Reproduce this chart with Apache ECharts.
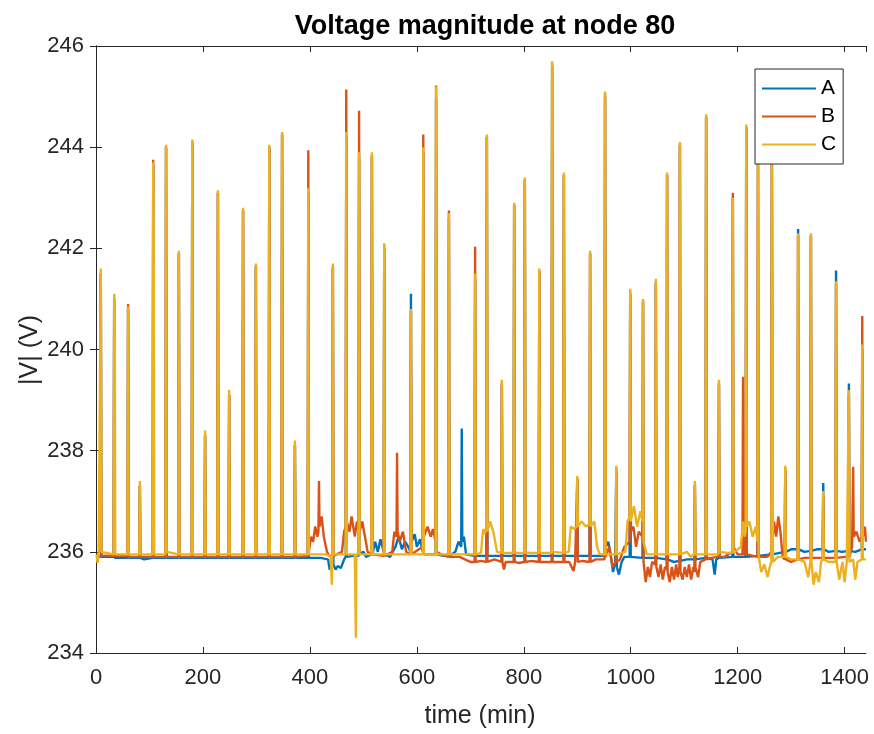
<!DOCTYPE html>
<html>
<head>
<meta charset="utf-8">
<script src="https://cdn.jsdelivr.net/npm/echarts@6/dist/echarts.min.js"></script>
<style>
html,body{margin:0;padding:0;background:#fff;}
#chart{width:874px;height:734px;}
</style>
</head>
<body>
<div id="chart"></div>
<script>
// ---- data (time in minutes, |V| in volts) ----
const seriesNames = ['A', 'B', 'C'];
const xTicks = [0, 200, 400, 600, 800, 1000, 1200, 1400];
const yTicks = [234, 236, 238, 240, 242, 244, 246];

const phaseA = [
[1,235.92],[8,235.9],[9,241.5],[10,235.9],
[33,235.9],[34,241.0],[35,235.88],
[59,235.88],[60,240.8],[61,235.88],
[81,235.88],[82,237.3],[83,235.88],[90,235.85],
[106,235.88],[107,243.65],[108,235.88],
[130,235.88],[131,244.0],[132,235.88],
[154,235.88],[155,241.9],[156,235.88],
[179,235.88],[180,244.1],[181,235.88],
[203,235.88],[204,238.3],[205,235.88],
[227,235.88],[228,243.1],[229,235.88],
[248,235.88],[249,239.1],[250,235.88],
[274,235.88],[275,242.75],[276,235.88],
[298,235.88],[299,241.65],[300,235.88],
[323,235.88],[324,244.0],[325,235.88],
[347,235.88],[348,244.25],[349,235.88],
[371,235.88],[372,238.1],[373,235.88],
[396,235.88],[397,243.1],[398,235.88],
[420,235.88],[434,235.85],[437,235.65],[440,235.75],
[442,235.8],[443,241.6],[444,235.75],
[448,235.65],[452,235.72],[458,235.68],[464,235.85],
[467,235.9],[468,244.2],[469,235.9],[480,235.92],
[491,235.92],[492,243.8],[493,235.95],[500,236.0],[505,235.9],
[515,235.95],[516,243.8],[517,235.95],
[522,236.2],[527,236.0],[532,236.25],
[538,236.0],[539,242.0],[540,235.95],
[550,235.9],[560,236.1],[566,236.3],[572,236.05],[578,236.2],[584,236.1],
[588,236.0],[589,241.1],[590,236.2],
[596,236.35],[600,236.1],[606,236.25],
[611,236.0],[612,243.9],[613,235.95],[622,235.95],
[635,235.95],[636,244.95],[637,235.95],[650,235.92],
[659,235.92],[660,242.6],[661,235.92],
[672,236.0],[678,236.2],
[683,236.1],[684,238.44],[685,236.2],[688,236.3],[692,235.95],
[708,235.92],[709,241.4],[710,235.92],
[730,235.92],[731,244.2],[732,235.92],
[758,235.92],[759,239.3],[760,235.92],
[781,235.92],[782,242.85],[783,235.92],
[801,235.92],[802,243.35],[803,235.92],
[828,235.92],[829,241.55],[830,235.92],
[852,235.92],[853,245.6],[854,235.92],
[874,235.92],[875,243.45],[876,235.92],
[899,235.92],[900,237.45],[901,235.92],
[923,235.92],[924,241.9],[925,235.92],
[951,235.92],[952,245.0],[953,236.1],
[958,236.2],[963,235.9],[967,235.6],[971,235.8],
[972,235.8],[973,237.6],[974,235.7],
[978,235.55],[983,235.8],[988,235.9],
[998,235.9],[999,241.1],[1000,235.9],
[1022,235.88],[1023,240.95],[1024,235.88],
[1046,235.88],[1047,241.3],[1048,235.88],
[1067,235.85],[1068,243.45],[1069,235.85],[1080,235.8],
[1091,235.82],[1092,244.05],[1093,235.82],[1105,235.85],
[1119,235.85],[1120,237.3],[1121,235.85],
[1140,235.88],[1141,244.6],[1142,235.88],
[1153,235.85],[1157,235.55],[1160,235.85],
[1164,235.88],[1165,239.3],[1166,235.88],
[1190,235.9],[1191,243.0],[1192,235.9],
[1215,235.9],[1216,244.4],[1217,235.9],
[1237,235.92],[1238,243.85],[1239,235.92],
[1263,235.95],[1264,243.85],[1265,235.95],
[1288,236.0],[1289,237.6],[1290,236.0],[1300,236.05],
[1312,236.05],[1313,242.38],[1314,236.05],[1325,236.0],
[1336,236.02],[1337,242.25],[1338,236.02],[1348,236.05],
[1359,236.05],[1360,237.36],[1361,236.05],[1370,236.0],
[1383,236.02],[1384,241.56],[1385,236.02],[1395,236.0],
[1407,236.02],[1408,239.33],[1409,236.02],
[1420,236.0],[1432,236.05],[1433,240.0],[1434,236.05],
[1440,236.05]
];

const phaseB = [
[1,235.93],[8,235.93],[9,241.5],[10,235.93],
[33,235.92],[34,241.0],[35,235.92],
[59,235.92],[60,240.9],[61,235.9],
[81,235.9],[82,237.3],[83,235.9],
[106,235.9],[107,243.75],[108,235.9],
[130,235.9],[131,244.0],[132,235.9],
[154,235.9],[155,241.9],[156,235.9],
[179,235.9],[180,244.1],[181,235.9],
[203,235.9],[204,238.3],[205,235.9],
[227,235.9],[228,243.1],[229,235.9],
[248,235.9],[249,239.1],[250,235.9],
[274,235.9],[275,242.75],[276,235.9],
[298,235.9],[299,241.65],[300,235.9],
[323,235.9],[324,244.0],[325,235.9],
[347,235.9],[348,244.25],[349,235.9],
[371,235.9],[372,238.1],[373,235.9],
[396,235.92],[397,243.94],[398,236.0],
[402,236.3],[406,236.2],[410,236.5],[414,236.3],
[416,236.4],[417,237.4],[418,236.5],[422,236.7],[426,236.3],[432,236.0],
[436,235.92],
[442,235.92],[443,241.65],[444,235.92],
[460,236.0],[464,236.4],
[467,236.5],[468,245.14],[469,236.6],
[474,236.4],[478,236.7],[484,236.3],[488,236.6],
[491,236.5],[492,244.72],[493,236.4],
[498,236.6],[503,236.3],[508,236.0],
[515,235.95],[516,243.85],[517,235.95],
[538,235.92],[539,242.05],[540,235.92],
[554,236.0],[558,236.4],
[562,236.3],[563,237.96],[564,236.4],[568,236.2],[574,236.4],[580,236.0],
[588,235.95],[589,240.75],[590,235.95],
[611,236.1],[612,244.25],[613,236.3],
[620,236.5],[626,236.3],[630,236.45],
[635,236.2],[636,245.22],[637,236.0],[645,235.95],
[659,235.9],[660,242.75],[661,235.9],
[680,235.9],[690,235.85],[700,235.8],
[708,235.8],[709,242.03],[710,235.8],[720,235.82],
[730,235.8],[731,244.2],[732,235.8],[745,235.85],
[758,235.8],[759,239.35],[760,235.8],[763,235.65],[766,235.8],
[781,235.8],[782,242.85],[783,235.8],[790,235.78],
[801,235.8],[802,243.35],[803,235.8],[815,235.82],
[828,235.8],[829,241.55],[830,235.8],
[852,235.8],[853,245.65],[854,235.8],
[874,235.8],[875,243.45],[876,235.8],
[885,235.8],[893,235.62],[896,235.8],
[899,235.8],[900,237.45],[901,235.8],[910,235.82],
[923,235.8],[924,241.9],[925,235.8],[935,235.85],
[951,235.85],[952,245.05],[953,235.9],
[960,236.1],[966,235.7],
[972,235.8],[973,237.65],[974,235.8],
[980,235.85],[988,236.1],
[998,236.2],[999,241.15],[1000,236.4],
[1005,236.5],[1010,236.1],[1015,236.4],
[1022,236.3],[1023,240.95],[1024,235.8],
[1028,235.4],[1032,235.7],[1036,235.5],[1040,235.8],
[1046,235.75],[1047,241.35],[1048,235.7],
[1052,235.5],[1056,235.75],[1060,235.45],[1064,235.7],
[1067,235.65],[1068,243.45],[1069,235.6],
[1073,235.4],[1077,235.7],[1081,235.45],[1085,235.75],[1088,235.5],
[1091,235.7],[1092,244.05],[1093,235.6],
[1097,235.45],[1101,235.7],[1105,235.5],[1109,235.75],[1113,235.45],[1117,235.7],
[1119,235.6],[1120,237.35],[1121,235.7],
[1126,235.5],[1130,235.8],
[1140,235.85],[1141,244.6],[1142,235.85],[1150,235.88],
[1164,235.9],[1165,239.35],[1166,235.9],[1175,235.9],
[1190,236.0],[1191,243.1],[1192,236.1],[1200,235.95],
[1209,235.95],[1210,239.46],[1211,235.95],
[1215,235.95],[1216,244.4],[1217,235.95],
[1237,235.9],[1238,243.85],[1239,235.9],[1255,235.9],
[1263,236.0],[1264,243.85],[1265,236.2],
[1268,236.6],[1272,236.3],[1276,236.7],[1280,236.4],[1284,235.9],
[1288,235.85],[1289,237.65],[1290,235.85],[1300,235.8],
[1312,235.85],[1313,242.25],[1314,235.85],[1325,235.88],
[1336,235.88],[1337,242.25],[1338,235.88],
[1359,235.88],[1360,237.1],[1361,235.88],
[1383,235.88],[1384,241.3],[1385,235.88],[1400,235.9],
[1407,235.9],[1408,239.1],[1409,235.9],
[1414,236.1],[1416,237.68],[1417,236.3],
[1422,236.4],[1428,236.2],
[1432,236.3],[1433,240.66],[1434,236.3],
[1438,236.5],[1440,236.2]
];

const phaseC = [
[1,235.95],[3,235.78],[5,235.95],
[8,235.95],[9,241.6],[10,236.0],
[33,235.95],[34,241.1],[35,240.9],[36,235.95],
[59,235.95],[60,240.85],[61,235.95],
[81,235.95],[82,237.4],[83,235.95],
[106,235.95],[107,243.7],[108,241.6],[109,235.95],
[130,235.95],[131,244.05],[132,236.0],
[154,235.95],[155,241.95],[156,235.95],
[179,235.95],[180,244.15],[181,235.95],
[203,235.95],[204,238.4],[205,235.95],
[227,235.95],[228,243.15],[229,235.95],
[248,235.95],[249,239.2],[250,235.95],
[274,235.95],[275,242.8],[276,235.95],
[298,235.95],[299,241.7],[300,235.95],
[323,235.95],[324,244.05],[325,235.95],
[347,235.95],[348,244.3],[349,235.95],
[371,235.95],[372,238.2],[373,235.95],
[396,235.95],[397,243.2],[398,235.95],
[430,235.95],[439,235.9],[441,235.35],[442,235.9],
[443,241.7],[444,235.95],
[467,235.95],[468,244.3],[469,235.95],
[484,235.95],[486,234.3],[487,235.95],
[491,235.95],[492,243.9],[493,235.95],
[515,235.95],[516,243.9],[517,235.95],
[538,235.95],[539,242.1],[540,235.95],
[588,235.95],[589,240.8],[590,235.95],
[611,235.95],[612,244.0],[613,235.95],
[635,235.95],[636,245.2],[637,235.95],
[659,235.95],[660,242.7],[661,235.95],
[708,235.95],[709,241.5],[710,235.95],
[720,235.98],[724,236.45],[727,236.35],
[730,236.5],[731,244.25],[732,236.4],
[737,236.6],[743,236.4],[750,236.0],
[758,235.98],[759,239.4],[760,235.98],
[781,235.98],[782,242.9],[783,235.98],
[801,235.98],[802,243.4],[803,235.98],
[828,235.98],[829,241.6],[830,235.98],
[852,235.98],[853,245.7],[854,236.0],
[874,235.98],[875,243.5],[876,235.98],
[884,236.0],[888,236.5],[894,236.45],
[899,236.5],[900,237.5],[901,236.5],
[908,236.6],[916,236.5],
[923,236.55],[924,241.95],[925,236.5],
[932,236.6],[937,236.1],[942,235.95],
[951,235.95],[952,245.1],[953,235.95],
[972,235.95],[973,237.7],[974,235.95],
[990,236.0],[994,236.6],
[998,236.7],[999,241.2],[1000,236.6],
[1006,236.9],[1012,236.5],[1018,236.8],
[1022,236.6],[1023,241.0],[1024,236.2],[1030,235.95],
[1046,235.95],[1047,241.4],[1048,235.95],
[1067,235.95],[1068,243.5],[1069,235.95],
[1091,235.95],[1092,244.1],[1093,235.95],
[1105,236.0],[1112,235.9],
[1119,235.95],[1120,237.4],[1121,235.95],
[1140,235.95],[1141,244.65],[1142,235.95],
[1164,235.95],[1165,239.4],[1166,236.0],[1180,235.98],
[1190,235.98],[1191,243.0],[1192,235.98],
[1206,236.1],[1210,236.6],[1213,236.3],
[1215,236.4],[1216,244.45],[1217,236.5],
[1222,236.6],[1228,236.3],[1234,236.5],
[1237,236.2],[1238,243.9],[1239,235.95],
[1244,235.6],[1250,235.75],[1256,235.5],[1260,235.7],
[1263,235.8],[1264,243.9],[1265,241.9],[1266,235.8],[1275,235.9],
[1288,235.9],[1289,237.7],[1290,235.9],[1300,235.85],
[1312,235.85],[1313,242.3],[1314,235.85],
[1325,235.8],[1332,235.5],[1336,235.8],
[1337,242.3],[1338,235.8],[1342,235.35],[1346,235.6],[1352,235.4],[1356,235.8],
[1359,235.85],[1360,237.2],[1361,235.85],[1370,235.8],
[1383,235.8],[1384,241.35],[1385,235.8],
[1390,235.45],[1396,235.8],[1400,235.4],[1404,235.8],
[1407,235.8],[1408,239.2],[1409,235.8],
[1416,235.85],[1420,235.45],[1424,235.8],
[1432,235.85],[1433,240.1],[1434,235.85],
[1440,235.85]
];

const seriesData = [phaseA, phaseB, phaseC];
const colors = ['#0072BD', '#D95319', '#EDB120'];

const axisColor = '#262626';
const font = 'Liberation Sans, Arial, Helvetica, sans-serif';

const chart = echarts.init(document.getElementById('chart'), null, {renderer: 'canvas'});

const commonX = {
  type: 'value', min: xTicks[0], max: 1440, interval: 200,
  axisLine: {show: true, lineStyle: {color: axisColor, width: 1}},
  axisTick: {show: true, inside: true, length: 6, lineStyle: {color: axisColor}},
  splitLine: {show: false}
};
const commonY = {
  type: 'value', min: yTicks[0], max: yTicks[yTicks.length - 1], interval: 2,
  axisLine: {show: true, lineStyle: {color: axisColor, width: 1}},
  axisTick: {show: true, inside: true, length: 6, lineStyle: {color: axisColor}},
  splitLine: {show: false}
};

chart.setOption({
  animation: false,
  backgroundColor: '#ffffff',
  title: {
    text: 'Voltage magnitude at node 80',
    left: 480, top: 8, textAlign: 'center',
    textStyle: {fontFamily: font, fontSize: 27, fontWeight: 'bold', color: '#000'}
  },
  grid: {left: 96, right: 8, top: 46, bottom: 81, containLabel: false},
  legend: {
    data: seriesNames,
    orient: 'vertical',
    left: 755, top: 69,
    icon: 'rect',
    itemWidth: 54, itemHeight: 2,
    itemGap: 7,
    padding: [9, 7, 9, 7],
    backgroundColor: '#ffffff',
    borderColor: axisColor, borderWidth: 1,
    textStyle: {fontFamily: font, fontSize: 21, color: '#000'},
    z: 10
  },
  xAxis: [
    Object.assign({}, commonX, {
      position: 'bottom',
      axisLabel: {
        show: true, margin: 14, color: axisColor, fontFamily: font, fontSize: 22,
        showMaxLabel: false,
        formatter: function (v) { return xTicks.indexOf(v) >= 0 ? String(v) : ''; }
      }
    }),
    Object.assign({}, commonX, {position: 'top', axisLabel: {show: false}})
  ],
  yAxis: [
    Object.assign({}, commonY, {
      position: 'left',
      axisLabel: {show: true, margin: 12, color: axisColor, fontFamily: font, fontSize: 22,
        formatter: function (v) { return String(v); }}
    }),
    Object.assign({}, commonY, {position: 'right', axisLabel: {show: false}})
  ],
  graphic: [
    {
      type: 'text', x: 480, y: 716, silent: true,
      style: {text: 'time (min)', fill: axisColor, font: '25px ' + font, textAlign: 'center', textVerticalAlign: 'middle'}
    },
    {
      type: 'text', x: 30, y: 350, rotation: Math.PI / 2, silent: true,
      style: {text: '|V| (V)', fill: axisColor, font: '25px ' + font, textAlign: 'center', textVerticalAlign: 'middle'}
    }
  ],
  series: seriesNames.map((name, i) => ({
    name: name,
    type: 'line',
    data: seriesData[i],
    xAxisIndex: 0, yAxisIndex: 0,
    showSymbol: false,
    symbol: 'none',
    sampling: null,
    lineStyle: {color: colors[i], width: 2.4},
    itemStyle: {color: colors[i]},
    z: 2 + i,
    clip: true
  }))
});
</script>
</body>
</html>
